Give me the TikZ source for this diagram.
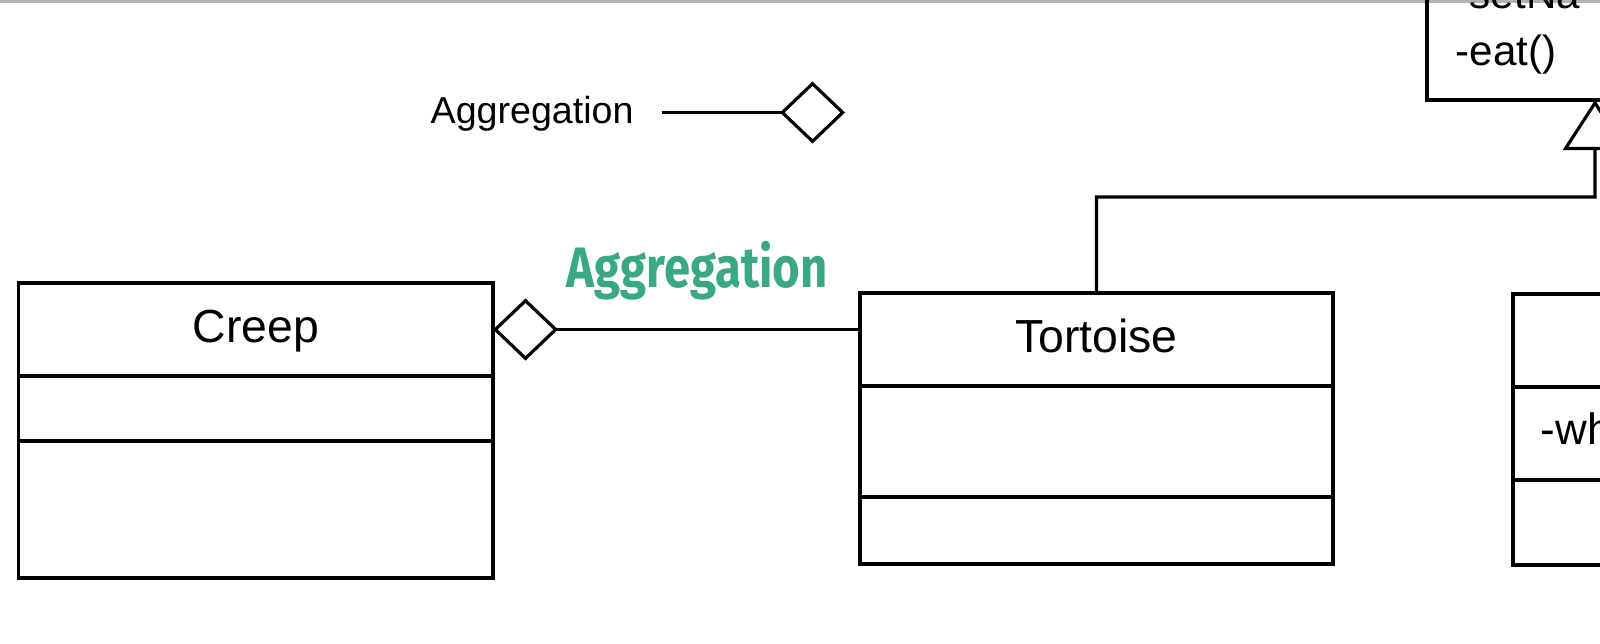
\documentclass[tikz,border=0pt]{standalone}
\usepackage{graphicx}
\usepackage{fontspec}
\setmainfont{Liberation Sans}
\newfontfamily\labelfont{Fira Sans}
\usepackage{tikz}
\usetikzlibrary{arrows.meta,positioning}
\definecolor{aggrgreen}{RGB}{58,168,128}

\begin{document}
\begin{tikzpicture}[
	box/.style={draw, line width=0.9pt, inner sep=0pt, outer sep=0pt},
	cname/.style={box, font=\fontsize{13.2pt}{15pt}\selectfont, text depth=0.21em},
	member/.style={inner sep=0pt, anchor=base west, font=\fontsize{12pt}{14pt}\selectfont},
	aggr/.style={line width=0.9pt, -{Diamond[open, length=0.65cm, width=0.62cm]}},
	inh/.style={line width=0.9pt, -{Triangle[open, length=0.5cm, width=0.64cm]}},
	]
		
		\useasboundingbox (0,0) rectangle (16,-6.43);
		\clip (0,0) rectangle (16,-6.43);
		\draw[gray!60, line width=1.2pt] (0,-0.01) -- (16,-0.01);
		
		\node[box, anchor=south west, minimum width=3.36cm, minimum height=1.6cm] (animal) at (14.27,-1.00) {};
		\node[member] (setname) at (14.55,-0.08) {-setNa};
		\node[member] (eat) at (14.55,-0.65) {-eat()};
		
		\node[cname, anchor=north west, minimum width=4.745cm, minimum height=0.93cm] (creep) at (0.185,-2.83) {Creep};
		\node[box, below=0pt of creep, minimum width=4.745cm, minimum height=0.65cm] (creepattr) {};
		\node[box, below=0pt of creepattr, minimum width=4.745cm, minimum height=1.37cm] (creepops) {};
		
		\node[cname, anchor=north west, minimum width=4.73cm, minimum height=0.93cm] (tortoise) at (8.60,-2.93) {Tortoise};
		\node[box, below=0pt of tortoise, minimum width=4.73cm, minimum height=1.11cm] (tortoiseattr) {};
		\node[box, below=0pt of tortoiseattr, minimum width=4.73cm, minimum height=0.67cm] (tortoiseops) {};
		
		\node[box, anchor=north west, minimum width=3cm, minimum height=0.93cm] (other) at (15.13,-2.94) {};
		\node[box, below=0pt of other, minimum width=3cm, minimum height=0.93cm] (otherattr) {};
		\node[box, below=0pt of otherattr, minimum width=3cm, minimum height=0.85cm] (otherops) {};
		\node[member, font=\fontsize{12.5pt}{14pt}\selectfont] (wh) at (15.40,-4.44) {-wh};
		
		
		\node[inner sep=0pt, anchor=base west, font=\fontsize{10.7pt}{13pt}\selectfont] (legtxt) at (4.30,-1.23) {Aggregation};
		\coordinate (legfrom) at (6.62,-1.125);
		\coordinate (legto) at (8.45,-1.125);
		\draw[aggr] (legfrom) -- (legto);
		
		\node[inner sep=0pt, anchor=base, text=aggrgreen, font=\labelfont\bfseries\fontsize{16.2pt}{18pt}\selectfont] (aggrlabel) at (6.97,-2.87) {\scalebox{0.83}[1]{Aggregation}};
		
		
		\draw[aggr] (tortoise.west |- creep.east) -- (creep.east);
		\coordinate (bend) at (15.95,-1.97);
		\draw[inh] (tortoise.north) |- (bend) -- (animal.south);
	\end{tikzpicture}
\end{document}
